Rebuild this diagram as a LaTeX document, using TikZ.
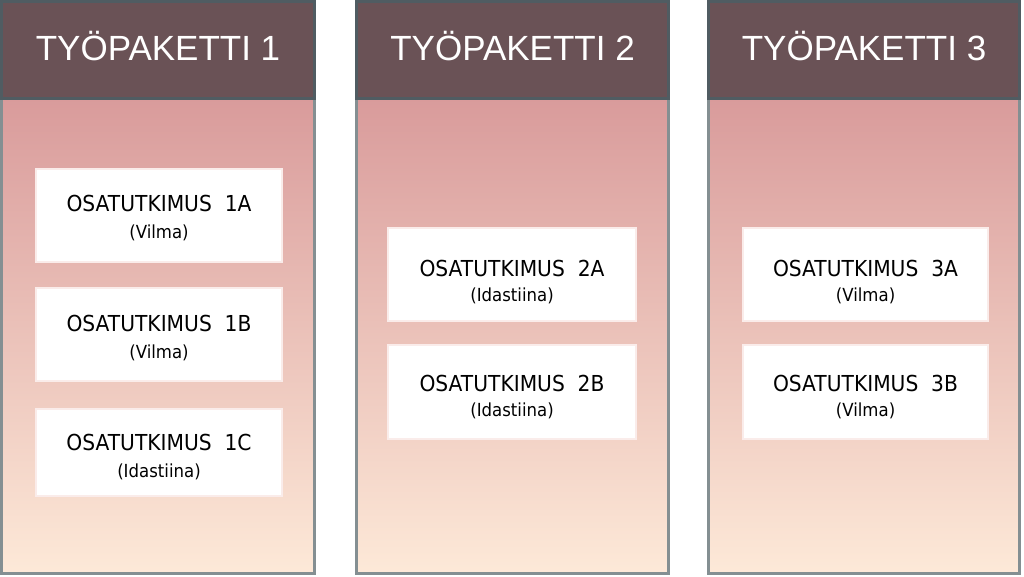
\documentclass[tikz,border=0pt]{standalone}
\usepackage{fontspec}
\newfontfamily\headfont{Liberation Sans}
\newfontfamily\boxfont[FakeStretch=0.92]{DejaVu Sans}
\definecolor{headc}{RGB}{106,82,86}
\definecolor{hborder}{RGB}{80,92,98}
\definecolor{pborder}{RGB}{132,143,146}
\definecolor{gtop}{RGB}{217,155,155}
\definecolor{gbot}{RGB}{253,233,216}
\definecolor{boxedge}{RGB}{250,236,234}
\tikzset{
  panelbody/.style={draw=pborder, line width=3pt, top color=gtop, bottom color=gbot},
  panelhead/.style={fill=headc, draw=hborder, line width=3pt},
  headtext/.style={text=white, font=\headfont\fontsize{35}{35}\selectfont, anchor=base, inner sep=0pt},
  subbox/.style={fill=white, draw=boxedge, line width=2pt, inner sep=0pt},
  titletext/.style={text=black, font=\boxfont\fontsize{22}{22}\selectfont, anchor=base, inner sep=0pt},
  nametext/.style={text=black, font=\boxfont\fontsize{18}{18}\selectfont, anchor=base, inner sep=0pt},
}
\begin{document}
\begin{tikzpicture}[x=1pt,y=-1pt]
\useasboundingbox (0,0) rectangle (1024,576);
% panels
\foreach \xa/\xb in {0/316, 355/670, 707/1021}{
  \draw[panelbody] (\xa+1.5,98) rectangle (\xb-1.5,573.5);
  \draw[panelhead] (\xa+1.5,1.5) rectangle (\xb-1.5,98);
}
% headers
\node[headtext] (h1) at (158,60) {TYÖPAKETTI 1};
\node[headtext] (h2) at (512.5,60) {TYÖPAKETTI 2};
\node[headtext] (h3) at (864,60) {TYÖPAKETTI 3};
% column 1
\node[subbox, minimum width=246pt, minimum height=93pt] (b1a) at (159,215.5) {};
\node[titletext] (t1a) at (159,211) {OSATUTKIMUS\ \ 1A};
\node[nametext] (n1a) at (159,238) {(Vilma)};
\node[subbox, minimum width=246pt, minimum height=93pt] (b1b) at (159,334.5) {};
\node[titletext] (t1b) at (159,331.5) {OSATUTKIMUS\ \ 1B};
\node[nametext] (n1b) at (159,358.5) {(Vilma)};
\node[subbox, minimum width=246pt, minimum height=87pt] (b1c) at (159,452.5) {};
\node[titletext] (t1c) at (159,450) {OSATUTKIMUS\ \ 1C};
\node[nametext] (n1c) at (159,477) {(Idastiina)};
% column 2
\node[subbox, minimum width=248pt, minimum height=93pt] (b2a) at (512,274.5) {};
\node[titletext] (t2a) at (512,276) {OSATUTKIMUS\ \ 2A};
\node[nametext] (n2a) at (512,301.5) {(Idastiina)};
\node[subbox, minimum width=248pt, minimum height=94pt] (b2b) at (512,392) {};
\node[titletext] (t2b) at (512,391) {OSATUTKIMUS\ \ 2B};
\node[nametext] (n2b) at (512,416.5) {(Idastiina)};
% column 3
\node[subbox, minimum width=245pt, minimum height=93pt] (b3a) at (865.5,274.5) {};
\node[titletext] (t3a) at (865.5,276) {OSATUTKIMUS\ \ 3A};
\node[nametext] (n3a) at (865.5,301.5) {(Vilma)};
\node[subbox, minimum width=245pt, minimum height=94pt] (b3b) at (865.5,392) {};
\node[titletext] (t3b) at (865.5,391) {OSATUTKIMUS\ \ 3B};
\node[nametext] (n3b) at (865.5,416.5) {(Vilma)};
\end{tikzpicture}
\end{document}
